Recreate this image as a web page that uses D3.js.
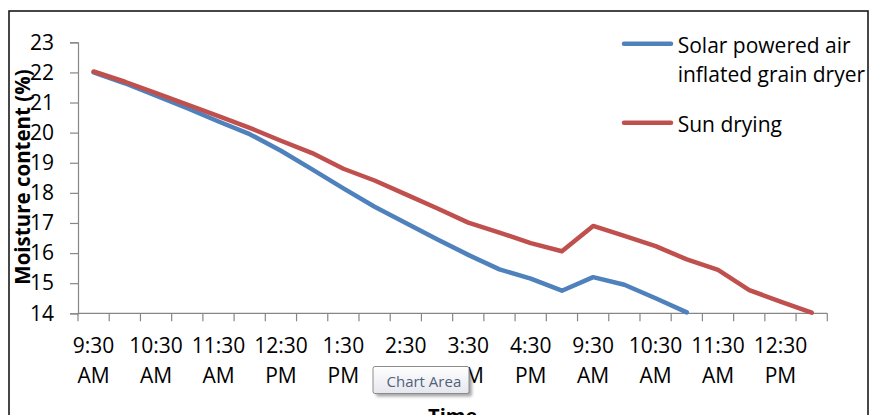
<!DOCTYPE html>
<html>
<head>
<meta charset="utf-8">
<script src="https://cdn.jsdelivr.net/npm/d3@7"></script>
<style>
  html, body { margin: 0; padding: 0; background: #fff; overflow: hidden; }
  svg { display: block; }
  text { font-family: "Open Sans", "Liberation Sans", sans-serif; }
</style>
</head>
<body>
<svg id="chart" width="873" height="415"></svg>
<script>
// ---- Data ----
const categories = [
  "9:30 AM","10:00 AM","10:30 AM","11:00 AM","11:30 AM","12:00 PM","12:30 PM","1:00 PM",
  "1:30 PM","2:00 PM","2:30 PM","3:00 PM","3:30 PM","4:00 PM","4:30 PM","5:00 PM",
  "9:30 AM","10:00 AM","10:30 AM","11:00 AM","11:30 AM","12:00 PM","12:30 PM","1:00 PM"
];
const solarDryer = [22.0, 21.64, 21.23, 20.81, 20.37, 19.95, 19.4, 18.78, 18.15, 17.54,
                    17.0, 16.46, 15.94, 15.46, 15.15, 14.75, 15.2, 14.95, 14.5, 14.03];
const sunDrying  = [22.03, 21.69, 21.31, 20.93, 20.55, 20.16, 19.73, 19.32, 18.8, 18.41,
                    17.95, 17.49, 17.01, 16.68, 16.33, 16.06, 16.9, 16.57, 16.23, 15.79,
                    15.44, 14.77, 14.39, 14.02];
const yTicks = [14, 15, 16, 17, 18, 19, 20, 21, 22, 23];
const seriesNames = ["Solar powered air inflated grain dryer", "Sun drying"];

// ---- Layout ----
const svg = d3.select("#chart");
const plot = { left: 78, right: 827.3, top: 42.3, bottom: 313.3 };
const colors = ["#4F81BD", "#C0504D"];
const axisColor = "#868686";

// chart frame
svg.append("rect")
  .attr("x", 9).attr("y", 11).attr("width", 859).attr("height", 440)
  .attr("fill", "#fff").attr("stroke", "#1a1a1a").attr("stroke-width", 1.6);

const x = d3.scaleBand()
  .domain(d3.range(categories.length))
  .range([plot.left, plot.right])
  .paddingInner(0).paddingOuter(0);
const y = d3.scaleLinear().domain([14, 23]).range([plot.bottom, plot.top]);
const cx = i => x(i) + x.bandwidth() / 2;

// y axis
const yAxis = svg.append("g").attr("transform", `translate(${plot.left},0)`)
  .call(d3.axisLeft(y).tickValues(yTicks).tickSize(8).tickPadding(16).tickFormat(d3.format("d")));
yAxis.select(".domain").attr("stroke", axisColor).attr("stroke-width", 1.2);
yAxis.selectAll(".tick line").attr("stroke", axisColor).attr("stroke-width", 1.2);
yAxis.selectAll(".tick text").attr("font-size", 21).attr("fill", "#000")
  .attr("font-family", "Open Sans");

// x axis (ticks between categories)
const xg = svg.append("g");
xg.append("line")
  .attr("x1", plot.left).attr("x2", plot.right)
  .attr("y1", plot.bottom).attr("y2", plot.bottom)
  .attr("stroke", axisColor).attr("stroke-width", 1.2);
const boundaries = d3.range(categories.length).map(i => x(i)).concat([x.range()[1]]);
xg.selectAll("line.tk").data(boundaries).join("line")
  .attr("class", "tk")
  .attr("x1", d => d).attr("x2", d => d)
  .attr("y1", plot.bottom).attr("y2", plot.bottom + 8)
  .attr("stroke", axisColor).attr("stroke-width", 1.2);
const shown = d3.range(0, categories.length, 2);
const lbl = xg.selectAll("text.xl").data(shown).join("text")
  .attr("class", "xl")
  .attr("text-anchor", "middle")
  .attr("font-size", 21)
  .attr("fill", "#000");
lbl.append("tspan").attr("x", d => cx(d)).attr("y", 353.3)
  .text(d => categories[d].split(" ")[0]);
lbl.append("tspan").attr("x", d => cx(d)).attr("y", 382.7)
  .text(d => categories[d].split(" ")[1]);

// lines
const line = d3.line().x((d, i) => cx(i)).y(d => y(d));
[solarDryer, sunDrying].forEach((s, k) => {
  svg.append("path").datum(s)
    .attr("d", line)
    .attr("fill", "none")
    .attr("stroke", colors[k])
    .attr("stroke-width", 4.5)
    .attr("stroke-linejoin", "round")
    .attr("stroke-linecap", "round");
});

// axis titles
svg.append("text")
  .attr("transform", "translate(30,177) rotate(-90)")
  .attr("text-anchor", "middle")
  .attr("font-size", 20.5).attr("font-weight", "bold").attr("fill", "#000")
  .text("Moisture content (%)");
svg.append("text")
  .attr("x", (plot.left + plot.right) / 2).attr("y", 422.6)
  .attr("text-anchor", "middle")
  .attr("font-size", 20).attr("font-weight", "bold").attr("fill", "#000")
  .text("Time");

// legend
const leg = svg.append("g");
const legendRows = [
  { lines: ["Solar powered air", "inflated grain dryer"], base: 53.3, sample: 43.7 },
  { lines: ["Sun drying"], base: 131.7, sample: 122.7 }
];
legendRows.forEach((r, k) => {
  leg.append("line")
    .attr("x1", 624).attr("x2", 671)
    .attr("y1", r.sample).attr("y2", r.sample)
    .attr("stroke", colors[k]).attr("stroke-width", 4.5).attr("stroke-linecap", "round");
  const t = leg.append("text").attr("font-size", 21).attr("fill", "#000");
  r.lines.forEach((ln, j) => {
    t.append("tspan").attr("x", 677.7).attr("y", r.base + j * 28.4).text(ln);
  });
});

// "Chart Area" tooltip
const defs = svg.append("defs");
const grad = defs.append("linearGradient").attr("id", "tipg")
  .attr("x1", 0).attr("y1", 0).attr("x2", 0).attr("y2", 1);
grad.append("stop").attr("offset", "0%").attr("stop-color", "#ffffff");
grad.append("stop").attr("offset", "100%").attr("stop-color", "#e6e7ee");
const flt = defs.append("filter").attr("id", "tipblur")
  .attr("x", "-20%").attr("y", "-20%").attr("width", "140%").attr("height", "140%");
flt.append("feGaussianBlur").attr("stdDeviation", 1.5);
const tip = svg.append("g").attr("transform", "translate(373,366.5)");
tip.append("rect").attr("x", 3).attr("y", 3).attr("width", 96).attr("height", 27)
  .attr("rx", 2).attr("fill", "rgba(0,0,0,0.35)").attr("filter", "url(#tipblur)");
tip.append("rect").attr("x", 0).attr("y", 0).attr("width", 96).attr("height", 27)
  .attr("rx", 2).attr("fill", "url(#tipg)").attr("stroke", "#8c8c8c").attr("stroke-width", 1);
tip.append("text").attr("x", 13.5).attr("y", 20)
  .attr("font-size", 15).attr("fill", "#51617c")
  .text("Chart Area");
</script>
</body>
</html>
